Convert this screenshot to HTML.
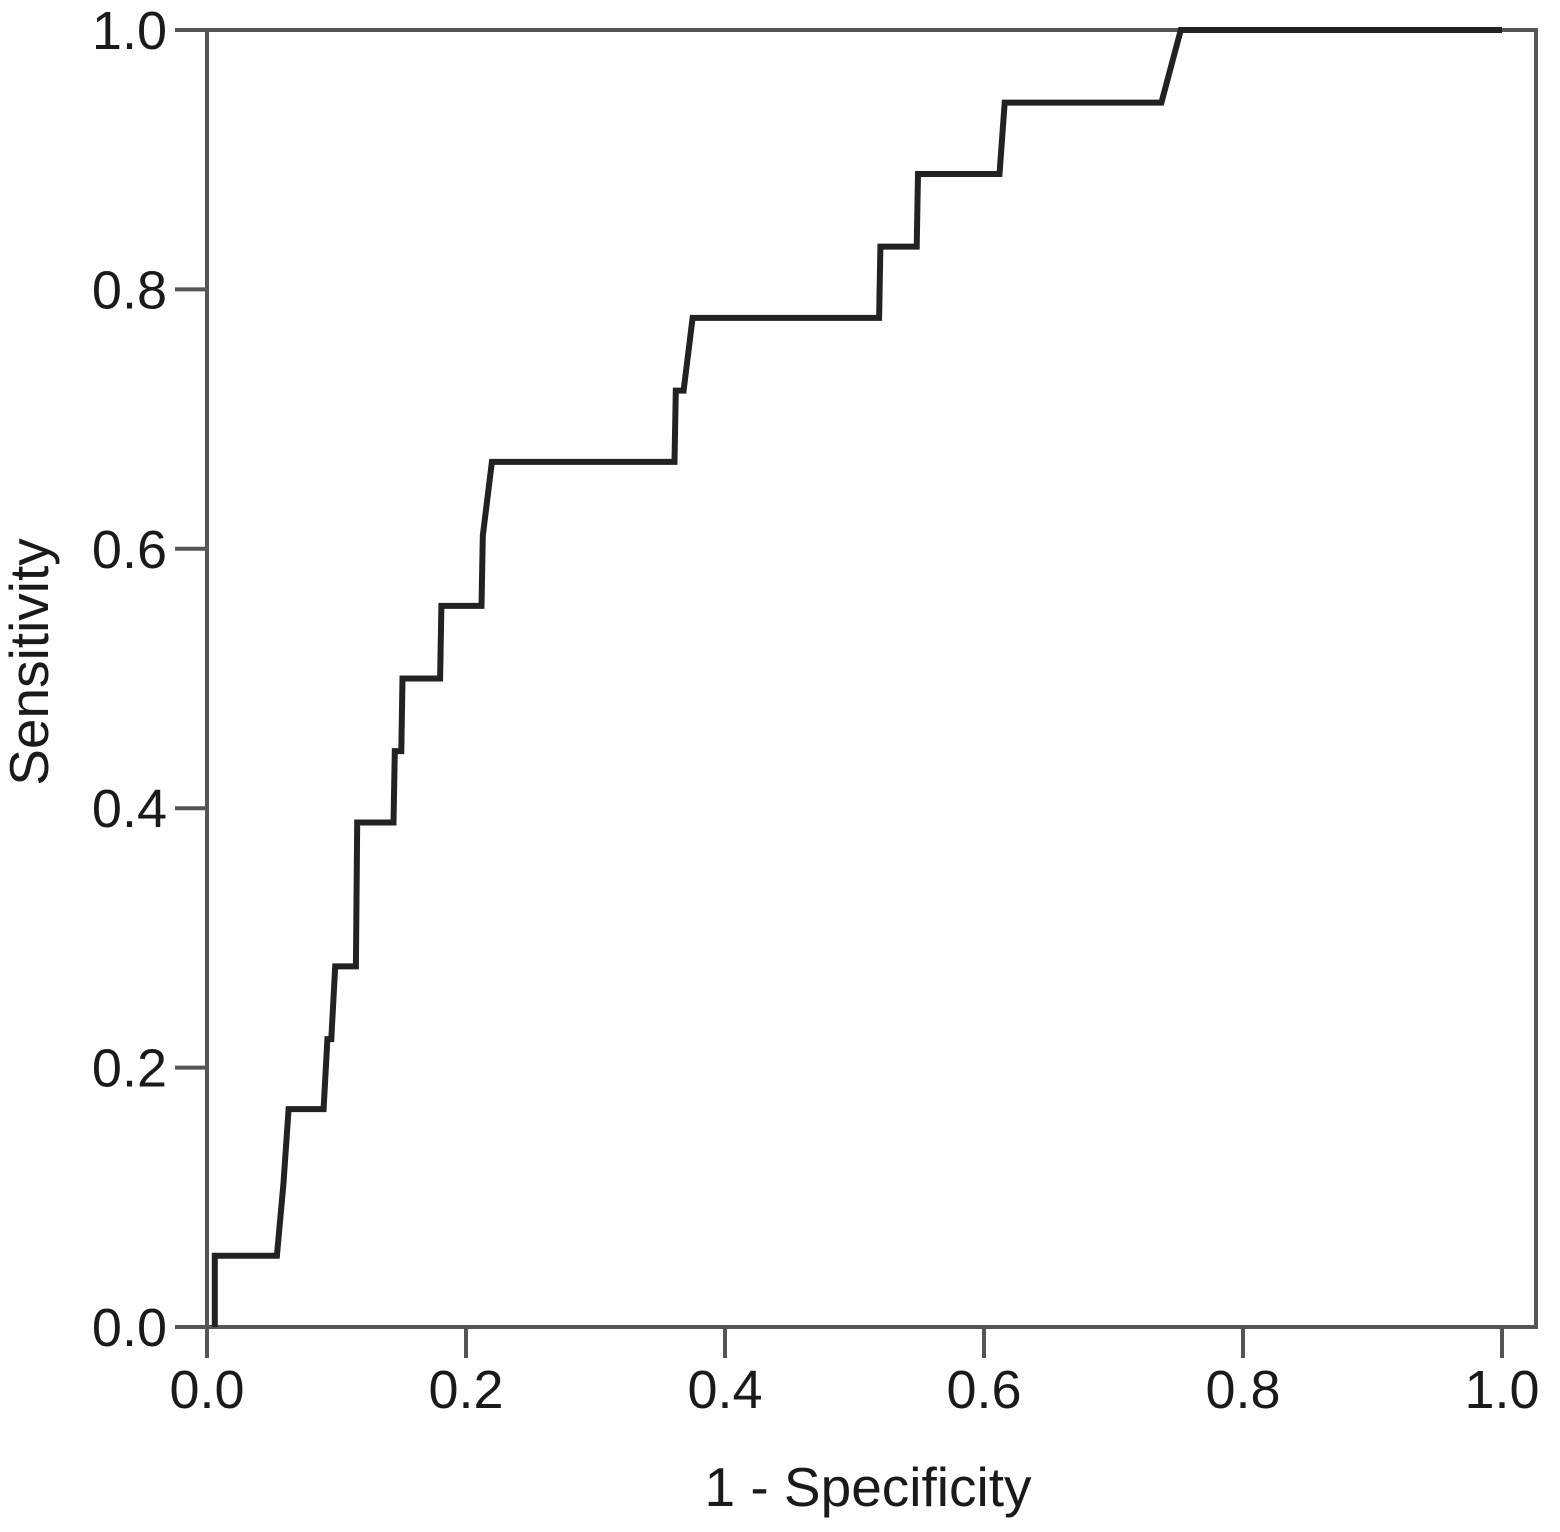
<!DOCTYPE html>
<html><head><meta charset="utf-8"><style>
html,body{margin:0;padding:0;background:#fff;}
svg{display:block;font-family:"Liberation Sans",Arial,sans-serif;}
</style></head><body>
<svg width="1560" height="1532" viewBox="0 0 1560 1532">
<g id="axes"></g>
<g id="series"></g>
<text x="868" y="1506" font-size="55" text-anchor="middle" fill="#1a1a1a">1 - Specificity</text>
<text transform="translate(48,662) rotate(-90)" font-size="55" text-anchor="middle" fill="#1a1a1a">Sensitivity</text>
</svg>
<script>
const xTicks = [0, 0.2, 0.4, 0.6, 0.8, 1.0];
const yTicks = [0, 0.2, 0.4, 0.6, 0.8, 1.0];
const tickLabels = ["0.0", "0.2", "0.4", "0.6", "0.8", "1.0"];
const fprValues = [0.006, 0.006, 0.054, 0.059, 0.063, 0.090, 0.093, 0.096, 0.099, 0.115, 0.116, 0.144, 0.145, 0.150, 0.151, 0.180, 0.181, 0.212, 0.213, 0.220, 0.361, 0.362, 0.368, 0.375, 0.519, 0.520, 0.548, 0.549, 0.612, 0.616, 0.737, 0.752, 1.0];
const tprValues = [0.0, 0.055, 0.055, 0.110, 0.168, 0.168, 0.222, 0.222, 0.278, 0.278, 0.389, 0.389, 0.444, 0.444, 0.500, 0.500, 0.556, 0.556, 0.610, 0.667, 0.667, 0.722, 0.722, 0.778, 0.778, 0.833, 0.833, 0.889, 0.889, 0.944, 0.944, 1.0, 1.0];
const NS = "http://www.w3.org/2000/svg";
const X0 = 207, X1 = 1502, Y0 = 1327, Y1 = 30;
function xs(v){ return X0 + v*(X1-X0); }
function ys(v){ return Y0 - v*(Y0-Y1); }
function mk(tag, attrs, parent){ const e=document.createElementNS(NS,tag); for(const k in attrs) e.setAttribute(k,attrs[k]); parent.appendChild(e); return e; }
const ax = document.getElementById('axes');
const frame = mk('rect',{x:X0,y:Y1,width:1536-X0,height:Y0-Y1,fill:'none',stroke:'#555',"stroke-width":4},ax);


xTicks.forEach((t,i)=>{
  const l = mk('line',{x1:xs(t),x2:xs(t),y1:Y0,y2:1358,stroke:'#555',"stroke-width":4},ax);
  
  
  const tx = mk('text',{x:xs(t),y:1408,"font-size":54,"text-anchor":"middle",fill:'#1a1a1a'},ax);
  tx.textContent = tickLabels[i];
  
  
});
yTicks.forEach((t,i)=>{
  const l = mk('line',{x1:175,x2:X0,y1:ys(t),y2:ys(t),stroke:'#555',"stroke-width":4},ax);
  
  
  const tx = mk('text',{x:167,y:ys(t)+19,"font-size":54,"text-anchor":"end",fill:'#1a1a1a'},ax);
  tx.textContent = tickLabels[i];
  
  
});
const sg = document.getElementById('series');
const d = fprValues.map((v,i)=>(i?'L':'M')+xs(v).toFixed(1)+','+ys(tprValues[i]).toFixed(1)).join(' ');
const p = mk('path',{d:d,fill:'none',stroke:'#222',"stroke-width":6,"stroke-linejoin":"miter"},sg);


</script>
</body></html>
